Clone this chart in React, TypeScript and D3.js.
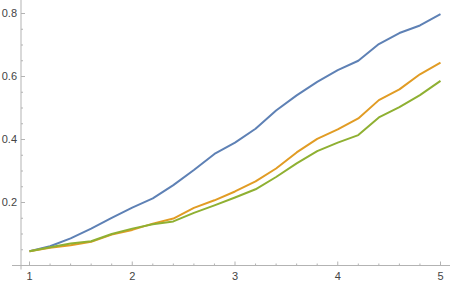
import React, { useEffect, useRef } from "react";
import * as d3 from "d3";

const xs = [1, 1.2, 1.4, 1.6, 1.8, 2, 2.2, 2.4, 2.6, 2.8, 3, 3.2, 3.4, 3.6, 3.8, 4, 4.2, 4.4, 4.6, 4.8, 5];

const blue = [0.045, 0.061, 0.086, 0.117, 0.151, 0.184, 0.213, 0.255, 0.303, 0.354, 0.39, 0.434, 0.492, 0.54, 0.583, 0.62, 0.65, 0.703, 0.738, 0.762, 0.798];
const orange = [0.045, 0.056, 0.064, 0.075, 0.098, 0.113, 0.133, 0.149, 0.183, 0.207, 0.235, 0.267, 0.308, 0.359, 0.402, 0.432, 0.467, 0.525, 0.559, 0.607, 0.644];
const green = [0.045, 0.058, 0.07, 0.077, 0.1, 0.117, 0.131, 0.14, 0.167, 0.191, 0.216, 0.242, 0.281, 0.324, 0.363, 0.39, 0.414, 0.47, 0.503, 0.541, 0.586];

const xTicks = [1, 2, 3, 4, 5];
const yTicks = [0.2, 0.4, 0.6, 0.8];

const series = [
  { values: blue, color: "#5e81b5" },
  { values: orange, color: "#e19c24" },
  { values: green, color: "#8fb032" },
];

export default function App() {
  const svgRef = useRef<SVGSVGElement>(null);

  useEffect(() => {
    const svg = d3.select(svgRef.current);
    svg.selectAll("*").remove();

    const width = 450;
    const height = 284;

    // axes cross at (xOrigin, 0)
    const x = d3.scaleLinear().domain([1, 5]).range([29.5, 440.5]);
    const y = d3.scaleLinear().domain([0, 0.8]).range([265.5, 13.5]);
    const x0 = x.invert(21);
    const axisColor = "#b3b3b3";
    const textColor = "#444";

    const g = svg.attr("width", width).attr("height", height).append("g");

    // axis lines
    g.append("line")
      .attr("x1", 12).attr("x2", width)
      .attr("y1", y(0)).attr("y2", y(0))
      .attr("stroke", axisColor);
    g.append("line")
      .attr("x1", x(x0)).attr("x2", x(x0))
      .attr("y1", 0).attr("y2", y(0) + 4)
      .attr("stroke", axisColor);

    // x ticks
    const xMinor = d3.range(1, 5.01, 0.2).filter((v) => Math.abs(v - Math.round(v)) > 0.01);
    g.selectAll(".xminor").data(xMinor).join("line")
      .attr("x1", (d) => x(d)).attr("x2", (d) => x(d))
      .attr("y1", y(0)).attr("y2", y(0) - 2)
      .attr("stroke", axisColor);
    g.selectAll(".xmajor").data(xTicks).join("line")
      .attr("x1", (d) => x(d)).attr("x2", (d) => x(d))
      .attr("y1", y(0)).attr("y2", y(0) - 4)
      .attr("stroke", axisColor);
    g.selectAll(".xlab").data(xTicks).join("text")
      .attr("x", (d) => x(d))
      .attr("y", y(0) + 11)
      .attr("dy", "0.35em")
      .attr("text-anchor", "middle")
      .style("font-family", "'Liberation Sans', Arial, sans-serif")
      .style("font-size", "11px")
      .style("fill", textColor)
      .text((d) => d);

    // y ticks
    const yMinor = d3.range(0.05, 0.84, 0.05).filter((v) => Math.abs(v * 5 - Math.round(v * 5)) > 0.01);
    g.selectAll(".yminor").data(yMinor).join("line")
      .attr("x1", x(x0)).attr("x2", x(x0) + 2)
      .attr("y1", (d) => y(d)).attr("y2", (d) => y(d))
      .attr("stroke", axisColor);
    g.selectAll(".ymajor").data(yTicks).join("line")
      .attr("x1", x(x0)).attr("x2", x(x0) + 4)
      .attr("y1", (d) => y(d)).attr("y2", (d) => y(d))
      .attr("stroke", axisColor);
    g.selectAll(".ylab").data(yTicks).join("text")
      .attr("x", x(x0) - 4)
      .attr("y", (d) => y(d))
      .attr("dy", "0.35em")
      .attr("text-anchor", "end")
      .style("font-family", "'Liberation Sans', Arial, sans-serif")
      .style("font-size", "11px")
      .style("fill", textColor)
      .text((d) => d.toFixed(1));

    // lines
    const line = d3.line<number>()
      .x((_, i) => x(xs[i]))
      .y((d) => y(d));

    series.forEach((s) => {
      g.append("path")
        .datum(s.values)
        .attr("fill", "none")
        .attr("stroke", s.color)
        .attr("stroke-width", 2)
        .attr("stroke-linejoin", "round")
        .attr("d", line);
    });
  }, []);

  return (
    <svg ref={svgRef} style={{ position: "absolute", left: 0, top: 0, background: "#fff" }}></svg>
  );
}
